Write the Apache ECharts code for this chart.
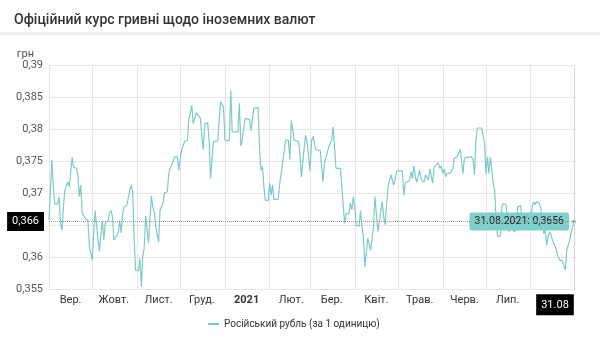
<!DOCTYPE html>
<html><head><meta charset="utf-8">
<script src="https://cdn.jsdelivr.net/npm/echarts@6/dist/echarts.min.js"></script>
<style>html,body{margin:0;padding:0;background:#fff}#c{width:600px;height:350px}</style>
</head><body><div id="c"></div>
<script>
const titleText = 'Офіційний курс гривні щодо іноземних валют';
const unitName = 'грн';
const seriesName = 'Російський рубль (за 1 одиницю)';
const monthLabels = {'09':'Вер.','10':'Жовт.','11':'Лист.','12':'Груд.','01':'2021','02':'Лют.','03':'Бер.','04':'Квіт.','05':'Трав.','06':'Черв.','07':'Лип.'};
const startDate = '2020-09-01';
const endDate = '2021-08-31';
const yMin = 0.355, yMax = 0.39, yStep = 0.005;
const markerRate = 0.3656;

const dates = [
'2020-09-01','2020-09-03','2020-09-04','2020-09-05','2020-09-07','2020-09-08','2020-09-09','2020-09-10','2020-09-11','2020-09-12','2020-09-13','2020-09-14','2020-09-15','2020-09-16','2020-09-17','2020-09-18','2020-09-20','2020-09-21','2020-09-22','2020-09-23','2020-09-24','2020-09-26','2020-09-28','2020-09-29',
'2020-10-01','2020-10-02','2020-10-03','2020-10-04','2020-10-05','2020-10-06','2020-10-07','2020-10-08','2020-10-09','2020-10-10','2020-10-12','2020-10-13','2020-10-14','2020-10-15','2020-10-16','2020-10-17','2020-10-19','2020-10-20','2020-10-21','2020-10-22','2020-10-23','2020-10-25','2020-10-27','2020-10-28','2020-10-29','2020-10-30','2020-10-31',
'2020-11-02','2020-11-03','2020-11-04','2020-11-05','2020-11-06','2020-11-07','2020-11-08','2020-11-09','2020-11-11','2020-11-12','2020-11-13','2020-11-14','2020-11-15','2020-11-16','2020-11-17','2020-11-19','2020-11-20','2020-11-22','2020-11-23','2020-11-24','2020-11-25','2020-11-26','2020-11-27','2020-11-29','2020-11-30',
'2020-12-01','2020-12-02','2020-12-03','2020-12-04','2020-12-06','2020-12-07','2020-12-08','2020-12-09','2020-12-10','2020-12-12','2020-12-13','2020-12-15','2020-12-16','2020-12-17','2020-12-18','2020-12-20','2020-12-21','2020-12-22','2020-12-23','2020-12-24','2020-12-27','2020-12-28','2020-12-29','2020-12-31',
'2021-01-01','2021-01-04','2021-01-05','2021-01-06','2021-01-10','2021-01-11','2021-01-12','2021-01-13','2021-01-15','2021-01-18','2021-01-19','2021-01-21','2021-01-22','2021-01-24','2021-01-25','2021-01-26','2021-01-27','2021-01-28','2021-01-29','2021-01-31',
'2021-02-01','2021-02-02','2021-02-03','2021-02-04','2021-02-07','2021-02-08','2021-02-09','2021-02-11','2021-02-12','2021-02-14','2021-02-15','2021-02-16','2021-02-18','2021-02-19','2021-02-21','2021-02-22','2021-02-23','2021-02-25','2021-02-26','2021-02-27','2021-02-28',
'2021-03-01','2021-03-02','2021-03-03','2021-03-05','2021-03-08','2021-03-10','2021-03-11','2021-03-12','2021-03-14','2021-03-15','2021-03-16','2021-03-17','2021-03-19','2021-03-22','2021-03-23','2021-03-25','2021-03-26','2021-03-28','2021-03-29','2021-03-30','2021-03-31',
'2021-04-01','2021-04-02','2021-04-04','2021-04-05','2021-04-06','2021-04-07','2021-04-08','2021-04-10','2021-04-11','2021-04-12','2021-04-13','2021-04-14','2021-04-15','2021-04-17','2021-04-18','2021-04-20','2021-04-21','2021-04-22','2021-04-23','2021-04-24','2021-04-25','2021-04-26','2021-04-28','2021-04-29','2021-04-30',
'2021-05-04','2021-05-05','2021-05-06','2021-05-07','2021-05-09','2021-05-10','2021-05-11','2021-05-12','2021-05-13','2021-05-14','2021-05-15','2021-05-16','2021-05-17','2021-05-18','2021-05-19','2021-05-20','2021-05-21','2021-05-22','2021-05-23','2021-05-24','2021-05-25','2021-05-26','2021-05-27','2021-05-29','2021-05-30','2021-05-31',
'2021-06-01','2021-06-02','2021-06-03','2021-06-04','2021-06-06','2021-06-08','2021-06-09','2021-06-11','2021-06-12','2021-06-13','2021-06-14','2021-06-15','2021-06-16','2021-06-19','2021-06-21','2021-06-22','2021-06-23','2021-06-24','2021-06-25','2021-06-28','2021-06-30',
'2021-07-01','2021-07-02','2021-07-03','2021-07-04','2021-07-05','2021-07-06','2021-07-07','2021-07-08','2021-07-09','2021-07-11','2021-07-12','2021-07-13','2021-07-14','2021-07-15','2021-07-16','2021-07-17','2021-07-18','2021-07-19','2021-07-21','2021-07-22','2021-07-23','2021-07-24','2021-07-25','2021-07-26','2021-07-28','2021-07-30','2021-07-31',
'2021-08-01','2021-08-02','2021-08-03','2021-08-04','2021-08-05','2021-08-07','2021-08-08','2021-08-09','2021-08-10','2021-08-11','2021-08-12','2021-08-13','2021-08-14','2021-08-15','2021-08-16','2021-08-17','2021-08-18','2021-08-19','2021-08-20','2021-08-21','2021-08-23','2021-08-24','2021-08-25','2021-08-26','2021-08-27','2021-08-28','2021-08-29','2021-08-30','2021-08-31'
];
const rates = [
0.3658,0.3752,0.3710,0.3683,0.3683,0.3695,0.3653,0.3642,0.3679,0.3705,0.3706,0.3718,0.3710,0.3731,0.3756,0.3741,0.3739,0.3729,0.3695,0.3713,0.3669,0.3661,0.3658,0.3617,
0.3596,0.3638,0.3673,0.3673,0.3627,0.3609,0.3638,0.3656,0.3627,0.3654,0.3656,0.3669,0.3673,0.3664,0.3627,0.3627,0.3638,0.3658,0.3638,0.3666,0.3679,0.3681,0.3705,0.3713,0.3703,0.3632,0.3580,
0.3579,0.3598,0.3554,0.3601,0.3614,0.3665,0.3665,0.3622,0.3696,0.3679,0.3671,0.3648,0.3648,0.3624,0.3674,0.3684,0.3700,0.3703,0.3729,0.3739,0.3736,0.3749,0.3757,0.3757,0.3736,
0.3754,0.3768,0.3765,0.3781,0.3783,0.3817,0.3825,0.3838,0.3809,0.3826,0.3826,0.3817,0.3789,0.3768,0.3809,0.3810,0.3783,0.3723,0.3752,0.3781,0.3782,0.3815,0.3843,0.3835,
0.3783,0.3782,0.3861,0.3796,0.3796,0.3841,0.3774,0.3783,0.3817,0.3815,0.3798,0.3833,0.3835,0.3834,0.3768,0.3736,0.3742,0.3710,0.3689,0.3689,
0.3716,0.3697,0.3713,0.3690,0.3691,0.3716,0.3731,0.3765,0.3783,0.3783,0.3753,0.3814,0.3783,0.3781,0.3781,0.3761,0.3725,0.3773,0.3791,0.3778,0.3779,
0.3735,0.3781,0.3789,0.3768,0.3767,0.3718,0.3747,0.3747,0.3773,0.3774,0.3783,0.3804,0.3739,0.3739,0.3710,0.3653,0.3668,0.3669,0.3685,0.3674,0.3695,
0.3679,0.3649,0.3649,0.3673,0.3648,0.3632,0.3585,0.3630,0.3630,0.3611,0.3614,0.3648,0.3695,0.3640,0.3640,0.3687,0.3664,0.3651,0.3679,0.3708,0.3709,0.3729,0.3713,0.3721,0.3735,
0.3735,0.3697,0.3716,0.3717,0.3720,0.3734,0.3723,0.3743,0.3726,0.3717,0.3718,0.3736,0.3722,0.3720,0.3717,0.3729,0.3729,0.3721,0.3738,0.3738,0.3716,0.3741,0.3742,0.3748,0.3739,0.3743,
0.3731,0.3738,0.3726,0.3731,0.3731,0.3739,0.3755,0.3757,0.3755,0.3769,0.3752,0.3731,0.3755,0.3757,0.3757,0.3752,0.3729,0.3783,0.3802,0.3802,0.3778,
0.3731,0.3757,0.3731,0.3757,0.3757,0.3716,0.3705,0.3658,0.3633,0.3633,0.3679,0.3684,0.3683,0.3682,0.3648,0.3640,0.3645,0.3644,0.3640,0.3648,0.3679,0.3682,0.3681,0.3658,0.3648,0.3649,0.3648,
0.3658,0.3679,0.3687,0.3682,0.3687,0.3684,0.3677,0.3658,0.3637,0.3643,0.3619,0.3632,0.3640,0.3635,0.3627,0.3627,0.3617,0.3617,0.3601,0.3596,0.3594,0.3595,0.3580,0.3611,0.3619,0.3627,0.3638,0.3640,0.3656
];

// daily categories for the axis
const cats = [];
for (let t = Date.parse(startDate + 'T00:00:00Z'); t <= Date.parse(endDate + 'T00:00:00Z'); t += 86400000) {
  cats.push(new Date(t).toISOString().slice(0, 10));
}
const lastIdx = cats.length - 1;
const comma = (v, d) => v.toFixed(d).replace('.', ',');
const fmtDate = s => s.slice(8,10) + '.' + s.slice(5,7) + '.' + s.slice(0,4);

const data = dates.map((d, i) => [d, rates[i]]);
const li = data.length - 1;
const lineColor = '#7ecbc6';

const chart = echarts.init(document.getElementById('c'));
chart.setOption({
  animation: false,
  textStyle: { fontFamily: 'Roboto' },
  title: {
    text: titleText, left: 9, top: 8,
    textStyle: { fontSize: 14, fontWeight: 500, color: '#333', fontFamily: 'Roboto' }
  },
  graphic: [{ type: 'rect', left: 0, top: 32, shape: { width: 600, height: 3 }, style: { fill: '#eeeeee' } }],
  grid: { left: 49, right: 26, top: 65.3, bottom: 60.7 },
  legend: {
    data: [seriesName], left: 203, top: 314, icon: 'rect', itemWidth: 11, itemHeight: 2, itemGap: 5,
    textStyle: { fontSize: 10, color: '#333' }
  },
  xAxis: {
    type: 'category', data: cats, boundaryGap: false,
    axisLine: { show: false }, axisTick: { show: false },
    splitLine: { show: true, interval: (i, v) => v.slice(8) === '01', lineStyle: { color: '#e6e6e6' } },
    axisLabel: {
      interval: (i, v) => i === lastIdx || (v.slice(8) === '16' && monthLabels[v.slice(5,7)] !== undefined),
      margin: 5, fontSize: 11, color: '#333',
      formatter: (v, i) => {
        if (i === lastIdx) return '{box|' + v.slice(8,10) + '.' + v.slice(5,7) + '}{pad|}';
        const m = v.slice(5,7);
        if (m === '01') return '{yr|' + v.slice(0,4) + '}';
        return monthLabels[m];
      },
      rich: {
        box: { backgroundColor: '#000', color: '#fff', fontSize: 11, padding: [5, 5, 5, 5] },
        pad: { width: 38 },
        yr: { fontWeight: 'bold', color: '#333', fontSize: 11 }
      }
    },
    axisPointer: {
      show: true, value: endDate, status: 'show', snap: false, triggerTooltip: false,
      label: { show: false },
      lineStyle: { color: '#aaa', type: 'dotted', width: 1 }
    }
  },
  yAxis: {
    type: 'value', min: yMin, max: yMax, interval: yStep,
    name: unitName, nameLocation: 'end', nameGap: 4,
    nameTextStyle: { align: 'right', padding: [0, 15, 0, 0], color: '#555', fontSize: 11 },
    axisLine: { show: false }, axisTick: { show: false },
    splitLine: { lineStyle: { color: '#e6e6e6' } },
    axisLabel: { margin: 6, fontSize: 11, color: '#555', formatter: v => String(+v.toFixed(3)).replace('.', ',') },
    axisPointer: {
      show: true, value: markerRate, status: 'show', triggerTooltip: false,
      lineStyle: { color: '#999', type: 'dotted', width: 1 },
      label: {
        show: true, formatter: p => comma(p.value, 3), backgroundColor: '#000', color: '#fff',
        fontSize: 11, padding: [4, 5, 4, 5], margin: 5, borderRadius: 0
      }
    }
  },
  series: [{
    name: seriesName, type: 'line', data: data,
    showSymbol: false,
    lineStyle: { color: lineColor, width: 1.2 },
    itemStyle: { color: lineColor },
    markPoint: {
      symbol: 'circle', symbolSize: 4, itemStyle: { color: lineColor },
      data: [{
        coord: [dates[li], rates[li]],
        label: {
          show: true, position: 'left', distance: 3,
          formatter: fmtDate(dates[li]) + ': ' + comma(rates[li], 4),
          backgroundColor: '#7fcfca', color: '#222', fontSize: 10.5,
          padding: [4, 5, 3, 5], borderRadius: 2
        }
      }]
    }
  }]
});
</script></body></html>
